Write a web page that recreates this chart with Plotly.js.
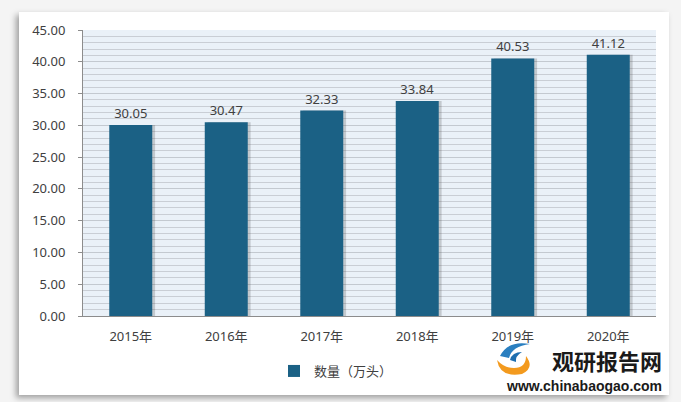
<!DOCTYPE html>
<html>
<head>
<meta charset="utf-8">
<script src="https://cdn.plot.ly/plotly-3.0.1.min.js"></script>
<style>
html,body{margin:0;padding:0;background:#ffffff;}
#wrap{position:relative;width:681px;height:402px;overflow:hidden;background:#f4f4f4;}
#frame{position:absolute;left:19px;top:12px;width:650px;height:383px;background:#ffffff;box-shadow:-3px 3px 6px rgba(0,0,0,0.35);}
#chart{position:absolute;left:0;top:0;width:681px;height:402px;}
</style>
</head>
<body>
<div id="wrap"><div id="frame"></div><div id="chart"></div></div>
<script>
var categories = ["2015年", "2016年", "2017年", "2018年", "2019年", "2020年"];
var values = [30.05, 30.47, 32.33, 33.84, 40.53, 41.12];
var seriesName = "数量（万头）";
var yTicks = [0, 5, 10, 15, 20, 25, 30, 35, 40, 45];
var yTickText = yTicks.map(function(v){ return v.toFixed(2); });

var L = 83, R = 656, T = 30, B = 316;
function px(x){ return (x - L) / (R - L); }
function py(y){ return (B - y) / (B - T); }

var font = "Noto Sans, Noto Sans CJK SC, sans-serif";

var shadow = {
  type: "bar", x: categories, y: values, width: 0.45, offset: -0.225 + 0.03,
  marker: {color: "rgba(60,60,60,0.22)"}, hoverinfo: "skip", showlegend: false
};
var bars = {
  type: "bar", x: categories, y: values, name: seriesName, width: 0.45, offset: -0.225,
  marker: {color: "#1b6185"},
  text: values.map(function(v){ return v.toFixed(2); }),
  textposition: "outside", cliponaxis: false,
  textfont: {family: font, size: 13, color: "#404040"}
};

var layout = {
  width: 681, height: 402,
  margin: {l: L, r: 681 - R, t: T, b: 402 - B},
  paper_bgcolor: "rgba(0,0,0,0)",
  plot_bgcolor: "#eaf1f8",
  barmode: "overlay",
  showlegend: true,
  legend: {orientation: "h", x: px(274), xanchor: "left", y: py(371), yanchor: "middle",
    font: {family: font, size: 13, color: "#404040"}, bgcolor: "rgba(0,0,0,0)", traceorder: "normal"},
  xaxis: {
    type: "category", showgrid: false, showline: true, linecolor: "#8c8c8c", linewidth: 1,
    ticks: "", ticklabelstandoff: 8,
    tickfont: {family: font, size: 13, color: "#404040"}, fixedrange: true
  },
  yaxis: {
    range: [0, 45], tickvals: yTicks, ticktext: yTickText,
    showgrid: true, gridcolor: "#c3c9d0", gridwidth: 1,
    minor: {dtick: 1, showgrid: true, gridcolor: "#c9ced5", gridwidth: 1},
    showline: true, linecolor: "#8c8c8c", linewidth: 1,
    ticks: "outside", ticklen: 4, tickcolor: "#8c8c8c", ticklabelstandoff: 10,
    tickfont: {family: font, size: 13, color: "#404040"}, zeroline: false, fixedrange: true
  },
  annotations: [
    {xref: "paper", yref: "paper", x: px(607), y: py(360), text: "<b>观研报告网</b>", showarrow: false,
     xanchor: "center", yanchor: "middle", font: {family: "Noto Sans CJK SC, sans-serif", size: 22, color: "#1a1a1a"}},
    {xref: "paper", yref: "paper", x: px(584), y: py(386), text: "<b>www.chinabaogao.com</b>", showarrow: false,
     xanchor: "center", yanchor: "middle", font: {family: "Liberation Sans, sans-serif", size: 14, color: "#1a1a1a"}}
  ],
  shapes: [
    {type: "path", xref: "paper", yref: "paper", layer: "above", line: {width: 0},
     fillcolor: "#2a7fc0",
     path: "M" + px(500) + "," + py(356) + " Q" + px(508) + "," + py(340) + " " + px(530) + "," + py(344) +
           " Q" + px(512) + "," + py(346) + " " + px(509) + "," + py(358) + " Z"},
    {type: "path", xref: "paper", yref: "paper", layer: "above", line: {width: 0},
     fillcolor: "#f39a1e",
     path: "M" + px(497) + "," + py(360) + " Q" + px(500) + "," + py(378) + " " + px(522) + "," + py(374) +
           " Q" + px(535) + "," + py(368) + " " + px(526) + "," + py(356) +
           " Q" + px(526) + "," + py(368) + " " + px(514) + "," + py(368) +
           " Q" + px(504) + "," + py(368) + " " + px(497) + "," + py(360) + " Z"},
    {type: "path", xref: "paper", yref: "paper", layer: "above", line: {width: 0},
     fillcolor: "#1f6fb0",
     path: "M" + px(510) + "," + py(360) + " Q" + px(512) + "," + py(352) + " " + px(522) + "," + py(352) +
           " Q" + px(515) + "," + py(356) + " " + px(516) + "," + py(362) + " Z"}
  ]
};

Plotly.newPlot("chart", [shadow, bars], layout, {displayModeBar: false, staticPlot: true});
</script>
</body>
</html>
